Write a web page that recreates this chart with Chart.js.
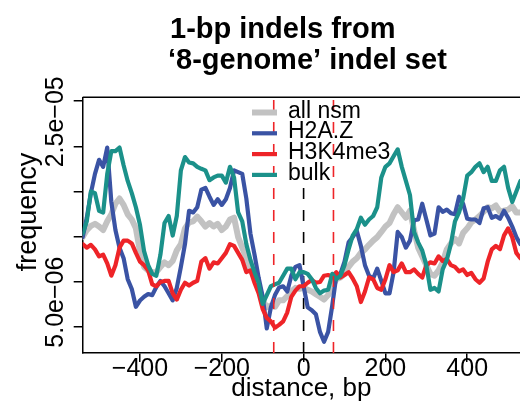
<!DOCTYPE html>
<html><head><meta charset="utf-8">
<script src="https://cdn.jsdelivr.net/npm/chart.js@4.4.1/dist/chart.umd.min.js"></script>
<style>html,body{margin:0;padding:0;background:#fff;}canvas{display:block;}</style>
</head><body>
<canvas id="c" width="520" height="406"></canvas>
<script>
const FONT = '"Liberation Sans", Arial, Helvetica, sans-serif';
const titleLines = ['1-bp indels from', '\u20188-genome\u2019 indel set'];
const xLabel = 'distance, bp';
const yLabel = 'frequency';
const seriesNames = ['all nsm', 'H2A.Z', 'H3K4me3', 'bulk'];
const seriesColors = ['#c2c2c2', '#3a53a4', '#ee2428', '#1b918a'];

const distance = [-540,-530,-520,-510,-500,-490,-480,-470,-460,-450,-440,-430,-420,-410,-400,-390,-380,-370,-360,-350,-340,-330,-320,-310,-300,-290,-280,-270,-260,-250,-240,-230,-220,-210,-200,-190,-180,-170,-160,-150,-140,-130,-120,-110,-100,-90,-80,-70,-60,-50,-40,-30,-20,-10,0,10,20,30,40,50,60,70,80,90,100,110,120,130,140,150,160,170,180,190,200,210,220,230,240,250,260,270,280,290,300,310,320,330,340,350,360,370,380,390,400,410,420,430,440,450,460,470,480,490,500,510,520,530];

const allNsm = [14.93e-6,15.71e-6,16.18e-6,16.4e-6,16.1e-6,15.71e-6,16.68e-6,17.46e-6,18.63e-6,19.21e-6,18.5e-6,17.46e-6,16.88e-6,15.9e-6,13.37e-6,11.63e-6,11.24e-6,11.04e-6,11.04e-6,11.63e-6,12.13e-6,11.82e-6,12.28e-6,13.45e-6,14.15e-6,15.9e-6,16.57e-6,16.68e-6,17.2e-6,16.68e-6,16.1e-6,16.49e-6,16.1e-6,16.4e-6,15.71e-6,16.1e-6,16.88e-6,17.08e-6,14.93e-6,13.76e-6,12.59e-6,11.35e-6,10.45e-6,9.48e-6,7.92e-6,7.14e-6,7.34e-6,7.2e-6,7.92e-6,7.92e-6,8.4e-6,8.9e-6,9.3e-6,9.2e-6,9.3e-6,9.1e-6,8.9e-6,8.6e-6,8.31e-6,8.0e-6,8.5e-6,9.4e-6,10.26e-6,10.45e-6,10.85e-6,11.63e-6,12.21e-6,12.59e-6,13.18e-6,13.57e-6,14.07e-6,14.54e-6,14.93e-6,15.5e-6,16.1e-6,16.49e-6,17.46e-6,18.24e-6,17.66e-6,17.08e-6,17.85e-6,15.71e-6,13.76e-6,12.79e-6,11.82e-6,10.85e-6,10.65e-6,11.24e-6,12.13e-6,13.57e-6,14.23e-6,14.74e-6,14.23e-6,15.4e-6,15.9e-6,16.57e-6,16.88e-6,17.27e-6,17.74e-6,18.24e-6,18.12e-6,18.43e-6,17.74e-6,17.85e-6,17.97e-6,18.35e-6,17.66e-6,17.66e-6];

const h2az = [14.93e-6,17.07e-6,19.8e-6,21.94e-6,23.5e-6,22.72e-6,24.86e-6,18.82e-6,15.71e-6,13.76e-6,12.59e-6,10.26e-6,9.17e-6,7.2e-6,7.9e-6,8.31e-6,8.62e-6,8.5e-6,9.4e-6,10.07e-6,9.48e-6,8.7e-6,7.92e-6,9.29e-6,11.63e-6,14.15e-6,17.85e-6,17.66e-6,18.24e-6,20.19e-6,20.38e-6,19.41e-6,18.5e-6,19.13e-6,18.5e-6,19.13e-6,20.38e-6,22.33e-6,22.13e-6,21.94e-6,19.21e-6,15.32e-6,12.98e-6,10.45e-6,8.31e-6,4.81e-6,7.14e-6,8.5e-6,9.33e-6,9.48e-6,8.9e-6,10.65e-6,11.63e-6,11.82e-6,9.48e-6,7.14e-6,6.83e-6,6.37e-6,4.42e-6,3.33e-6,4.42e-6,7.34e-6,10.65e-6,10.85e-6,12.21e-6,14.35e-6,14.93e-6,15.63e-6,13.96e-6,11.82e-6,10.65e-6,10.34e-6,11.43e-6,10.07e-6,8.7e-6,8.7e-6,11.04e-6,15.5e-6,14.93e-6,13.76e-6,14.54e-6,16.8e-6,16.88e-6,18.63e-6,16.88e-6,15.12e-6,15.32e-6,18.24e-6,17.74e-6,17.97e-6,17.58e-6,17.46e-6,19.41e-6,18.63e-6,16.96e-6,16.88e-6,16.88e-6,16.49e-6,18.12e-6,18.24e-6,17.08e-6,17.27e-6,16.96e-6,17.85e-6,17.08e-6,16.1e-6,14.93e-6,14.15e-6];

const h3k4me3 = [14.15e-6,13.76e-6,14.07e-6,13.57e-6,12.79e-6,12.98e-6,12.01e-6,10.65e-6,11.82e-6,13.76e-6,14.54e-6,14.54e-6,14.23e-6,13.18e-6,12.21e-6,11.82e-6,11.24e-6,9.68e-6,9.48e-6,9.95e-6,10.07e-6,10.07e-6,8.7e-6,8.0e-6,9.09e-6,9.87e-6,9.56e-6,9.87e-6,10.07e-6,12.21e-6,12.59e-6,11.43e-6,12.13e-6,12.01e-6,12.59e-6,13.18e-6,14.15e-6,13.96e-6,13.18e-6,12.4e-6,11.04e-6,11.24e-6,9.87e-6,8.7e-6,6.95e-6,5.98e-6,5.59e-6,4.89e-6,5.2e-6,5.59e-6,6.56e-6,8.31e-6,9.0e-6,9.48e-6,9.48e-6,9.87e-6,10.18e-6,9.87e-6,9.95e-6,10.65e-6,10.73e-6,10.57e-6,11.04e-6,10.45e-6,10.73e-6,11.04e-6,10.34e-6,9.48e-6,7.73e-6,8.9e-6,10.45e-6,10.26e-6,9.29e-6,9.09e-6,10.26e-6,11.82e-6,11.04e-6,11.24e-6,12.01e-6,11.04e-6,11.04e-6,11.35e-6,10.85e-6,10.45e-6,11.82e-6,12.13e-6,12.01e-6,12.79e-6,12.28e-6,12.51e-6,11.82e-6,11.63e-6,11.12e-6,11.35e-6,10.73e-6,10.96e-6,10.26e-6,9.87e-6,10.34e-6,12.21e-6,13.57e-6,13.96e-6,13.6e-6,15.12e-6,15.9e-6,14.93e-6,13.18e-6,12.59e-6];

const bulk = [15.32e-6,16.68e-6,19.99e-6,19.8e-6,17.85e-6,17.66e-6,21.94e-6,24.47e-6,24.47e-6,24.86e-6,22.9e-6,21.16e-6,19.8e-6,18.24e-6,16.3e-6,13.37e-6,11.82e-6,10.85e-6,10.65e-6,12.98e-6,16.49e-6,17.27e-6,15.1e-6,17.27e-6,22.33e-6,23.8e-6,23.2e-6,23.11e-6,22.72e-6,22.5e-6,22.33e-6,21.24e-6,21.55e-6,21.75e-6,21.75e-6,20.97e-6,22.72e-6,21.55e-6,17.66e-6,16.68e-6,14.15e-6,12.4e-6,11.04e-6,9.87e-6,7.53e-6,8.5e-6,9.48e-6,9.68e-6,9.87e-6,10.65e-6,11.43e-6,11.43e-6,10.26e-6,11.04e-6,11.04e-6,10.85e-6,10.26e-6,9.29e-6,8.7e-6,9.0e-6,9.09e-6,10.85e-6,10.26e-6,10.65e-6,11.82e-6,13.57e-6,15.1e-6,15.8e-6,17.08e-6,16.3e-6,16.88e-6,17.27e-6,18.24e-6,21.55e-6,22.72e-6,23.11e-6,23.89e-6,24.66e-6,22.72e-6,21.16e-6,19.6e-6,15.5e-6,14.35e-6,13.45e-6,11.82e-6,9.09e-6,9.29e-6,8.9e-6,11.35e-6,12.4e-6,14.15e-6,16.68e-6,17.66e-6,19.21e-6,21.75e-6,22.13e-6,22.72e-6,23.11e-6,22.13e-6,22.72e-6,21.16e-6,21.16e-6,22.33e-6,22.72e-6,20.38e-6,18.82e-6,19.99e-6,21.16e-6];

const seriesValues = [allNsm, h2az, h3k4me3, bulk];
const seriesWidths = [6, 4.2, 4.2, 4.2];

const xMin = -540, xMax = 529;
const yMin = 2.08e-6, yMax = 3.043e-5;
const xTicks = [-400, -200, 0, 200, 400];
const yTickMarks = [5e-6, 1e-5, 1.5e-5, 2e-5, 2.5e-5, 3e-5];
const yLabelValues = [5e-6, 2.5e-5];
const yLabelTexts = ['5.0e\u221206', '2.5e\u221205'];
const nucleosomeEdges = [-73, 73];
const dyad = 0;
const dyadTop = 2.1e-5;

const datasets = seriesValues.map((vals, i) => ({
  label: seriesNames[i],
  data: distance.map((d, j) => ({ x: d, y: vals[j] })),
  borderColor: seriesColors[i],
  borderWidth: seriesWidths[i],
  pointRadius: 0,
  tension: 0,
  borderJoinStyle: 'round',
  borderCapStyle: 'round',
  clip: 0,
  order: 4 - i,
  legendEntry: true
}));
nucleosomeEdges.forEach(e => datasets.push({
  label: 'edge', data: [{ x: e, y: yMin }, { x: e, y: yMax }],
  borderColor: '#ee2428', borderWidth: 1.6, borderDash: [11, 11], pointRadius: 0, clip: 0, order: 0
}));
datasets.push({
  label: 'dyad', data: [{ x: dyad, y: yMin }, { x: dyad, y: dyadTop }],
  borderColor: '#000', borderWidth: 1.6, borderDash: [11, 11], pointRadius: 0, clip: 0, order: 5
});

const decorPlugin = {
  id: 'decor',
  afterDraw(chart) {
    const ctx = chart.ctx, a = chart.chartArea, ys = chart.scales.y;
    ctx.save();
    ctx.strokeStyle = '#000';
    ctx.lineWidth = 1.5;
    ctx.beginPath(); ctx.moveTo(a.left, a.top); ctx.lineTo(a.right + 2, a.top); ctx.stroke();
    ctx.fillStyle = '#000';
    ctx.textBaseline = 'alphabetic';
    ctx.textAlign = 'left';
    ctx.font = 'bold 29px ' + FONT;
    ctx.fillText(titleLines[0], 170, 38);
    ctx.fillText(titleLines[1], 168, 68.5);
    ctx.textAlign = 'center';
    ctx.font = '25px ' + FONT;
    yLabelValues.forEach((v, i) => {
      const py = ys.getPixelForValue(v) - 24.5;
      ctx.save(); ctx.translate(63, py); ctx.rotate(-Math.PI / 2); ctx.fillText(yLabelTexts[i], 0, 0); ctx.restore();
    });
    ctx.font = '27px ' + FONT;
    ctx.save(); ctx.translate(35.5, 212); ctx.rotate(-Math.PI / 2); ctx.fillText(yLabel, 0, 0); ctx.restore();
    ctx.textAlign = 'left';
    ctx.font = '23px ' + FONT;
    chart.data.datasets.filter(d => d.legendEntry).forEach((d, i) => {
      const ly = 112.5 + 20.8 * i;
      ctx.strokeStyle = d.borderColor;
      ctx.lineWidth = d.borderWidth;
      ctx.lineCap = 'butt';
      ctx.beginPath(); ctx.moveTo(252, ly); ctx.lineTo(277, ly); ctx.stroke();
      ctx.fillStyle = '#000';
      ctx.fillText(d.label, 288, ly + 5);
    });
    ctx.restore();
  }
};

new Chart(document.getElementById('c'), {
  type: 'line',
  data: { datasets },
  options: {
    responsive: false,
    animation: false,
    devicePixelRatio: 1,
    layout: { padding: { left: 73.7, top: 97.3, right: 0, bottom: 0 } },
    plugins: { legend: { display: false }, title: { display: false }, tooltip: { enabled: false } },
    scales: {
      x: {
        type: 'linear', min: xMin, max: xMax,
        afterBuildTicks: s => { s.ticks = xTicks.map(v => ({ value: v })); },
        grid: { display: true, drawOnChartArea: false, drawTicks: true, tickLength: 9, color: '#000', lineWidth: 1.5 },
        border: { display: true, color: '#000', width: 1.5 },
        ticks: { color: '#000', font: { family: FONT, size: 25, lineHeight: 1.6 }, padding: -13, maxRotation: 0, autoSkip: false,
          callback: v => String(v).replace('-', '\u2212') },
        title: { display: true, text: xLabel, color: '#000', font: { family: FONT, size: 26, lineHeight: 1 }, padding: { top: 0, bottom: 4 } }
      },
      y: {
        type: 'linear', min: yMin, max: yMax,
        afterBuildTicks: s => { s.ticks = yTickMarks.map(v => ({ value: v })); },
        grid: { display: true, drawOnChartArea: false, drawTicks: true, tickLength: 9, color: '#000', lineWidth: 1.5 },
        border: { display: true, color: '#000', width: 1.5 },
        ticks: { display: false }
      }
    }
  },
  plugins: [decorPlugin]
});
</script>
</body></html>
